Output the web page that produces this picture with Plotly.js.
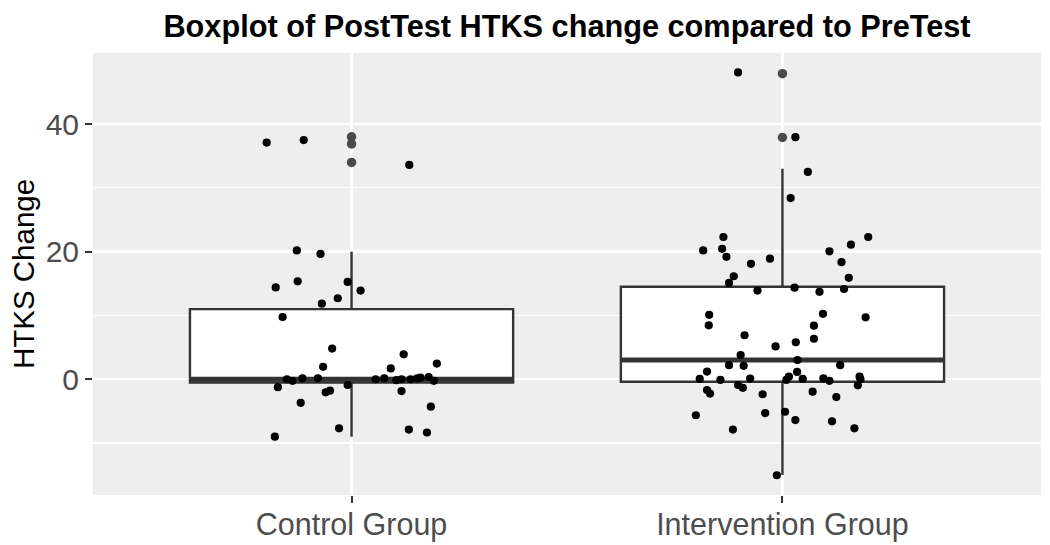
<!DOCTYPE html>
<html>
<head>
<meta charset="utf-8">
<script src="https://cdn.plot.ly/plotly-3.0.1.min.js"></script>
<style>html,body{margin:0;padding:0;background:#fff;}#chart{width:1050px;height:545px;}</style>
</head>
<body>
<div id="chart"></div>
<script>
// Categories and tick labels
const groups = ["Control Group", "Intervention Group"];
const groupPos = [1, 2];

// Box statistics per group
const q1 = [-0.5, -0.4];
const median = [0, 3];
const q3 = [11, 14.5];
const lowerWhisker = [-9, -15];
const upperWhisker = [20, 33];

// Outliers
const ctrlOutliers = [38.0, 36.9, 34.0];
const intOutliers = [47.9, 37.9];

// Jittered observations: horizontal jitter offset and value
const ctrlJitter = [-0.197,-0.111,0.134,-0.127,-0.072,-0.176,-0.125,-0.009,0.021,-0.032,-0.069,-0.160,-0.045,0.121,0.198,-0.066,0.091,-0.150,-0.137,-0.114,-0.078,0.056,0.076,0.104,0.116,0.137,0.152,0.160,0.179,0.191,-0.171,-0.009,-0.060,-0.050,0.116,-0.118,0.184,-0.029,0.133,0.175,-0.178];
const ctrlValues = [37.1,37.5,33.6,20.2,19.65,14.4,15.35,15.25,13.9,12.7,11.85,9.75,4.8,3.9,2.45,1.95,1.7,0.0,-0.25,0.15,0.15,0.0,0.15,-0.15,0.0,0.0,0.15,0.25,0.35,-0.25,-1.25,-0.9,-2.05,-1.8,-1.85,-3.7,-4.3,-7.7,-7.9,-8.35,-9.0];

const intJitter = [-0.103,0.030,0.059,0.019,-0.137,-0.184,-0.140,-0.130,-0.073,-0.029,-0.113,-0.124,-0.058,0.028,0.086,0.143,0.154,0.137,0.109,0.159,0.199,-0.170,-0.171,0.094,0.193,0.073,-0.088,0.073,0.031,-0.016,-0.097,0.035,-0.124,-0.090,0.134,-0.175,0.034,-0.192,-0.144,-0.075,0.015,0.009,0.047,0.095,0.109,0.179,0.181,0.175,-0.103,-0.092,-0.175,-0.168,-0.046,0.070,0.125,-0.201,-0.040,0.006,0.030,0.115,0.167,-0.115,-0.013];
const intValues = [48.1,37.95,32.5,28.4,22.3,20.2,20.45,19.2,18.1,18.9,16.15,15.1,13.9,14.35,13.7,14.15,15.9,18.35,20.05,21.1,22.3,10.1,8.45,10.25,9.7,8.4,6.9,6.35,5.8,5.15,3.8,3.0,2.2,2.1,2.2,1.2,1.15,0.05,-0.1,0.1,0.4,-0.1,0.05,0.15,-0.25,0.4,0.0,-0.95,-0.9,-1.35,-1.7,-2.25,-2.35,-1.95,-2.8,-5.65,-5.3,-5.1,-6.4,-6.6,-7.7,-7.9,-15.05];

const boxWidth = 0.75;
const boxLine = '#333333';

const traces = [];
// Boxes
groupPos.forEach((p, i) => {
  traces.push({
    type: 'box', x: [p], q1: [q1[i]], median: [median[i]], q3: [q3[i]],
    lowerfence: [lowerWhisker[i]], upperfence: [upperWhisker[i]],
    width: boxWidth, boxpoints: false, whiskerwidth: 0,
    fillcolor: '#ffffff', line: {color: boxLine, width: 2.4},
    hoverinfo: 'skip', showlegend: false
  });
  // thicker median line (ggplot style)
  traces.push({
    type: 'scatter', mode: 'lines',
    x: [p - boxWidth / 2, p + boxWidth / 2], y: [median[i], median[i]],
    line: {color: boxLine, width: 5}, hoverinfo: 'skip', showlegend: false
  });
});
// Outliers
traces.push({
  type: 'scatter', mode: 'markers',
  x: ctrlOutliers.map(() => groupPos[0]).concat(intOutliers.map(() => groupPos[1])),
  y: ctrlOutliers.concat(intOutliers),
  marker: {color: '#4a4a4a', size: 9.5}, hoverinfo: 'skip', showlegend: false
});
// Jittered points
traces.push({
  type: 'scatter', mode: 'markers',
  x: ctrlJitter.map(d => groupPos[0] + d).concat(intJitter.map(d => groupPos[1] + d)),
  y: ctrlValues.concat(intValues),
  marker: {color: '#000000', size: 8.2}, hoverinfo: 'skip', showlegend: false
});

const layout = {
  width: 1050, height: 545,
  margin: {l: 93, r: 9, t: 53, b: 50},
  paper_bgcolor: '#ffffff', plot_bgcolor: '#EEEEEE',
  font: {family: 'Liberation Sans, Arial, sans-serif'},
  title: {
    text: '<b>Boxplot of PostTest HTKS change compared to PreTest</b>',
    font: {size: 30.7, color: '#000000'},
    x: 0.5, xref: 'paper', xanchor: 'center',
    y: 0.952, yref: 'container', yanchor: 'middle'
  },
  xaxis: {
    range: [0.4, 2.6], tickvals: groupPos, ticktext: groups,
    showgrid: true, gridcolor: '#ffffff', gridwidth: 2.4, zeroline: false,
    ticks: 'outside', ticklen: 7, tickwidth: 2, tickcolor: '#333333',
    tickfont: {size: 30.5, color: '#4D4D4D'}, showline: false,
    ticklabelstandoff: -5
  },
  yaxis: {
    range: [-18.15, 51.15], tickvals: [0, 20, 40],
    showgrid: true, gridcolor: '#ffffff', gridwidth: 2.4, zeroline: false,
    minor: {tickvals: [-10, 10, 30], showgrid: true, gridcolor: '#ffffff', gridwidth: 1.1, ticks: ''},
    ticks: 'outside', ticklen: 7, tickwidth: 2, tickcolor: '#333333',
    tickfont: {size: 30, color: '#4D4D4D'}, showline: false,
    title: {text: 'HTKS Change', font: {size: 29.5, color: '#000000'}, standoff: 2}
  }
};

Plotly.newPlot('chart', traces, layout, {displayModeBar: false, staticPlot: true});
</script>
</body>
</html>
